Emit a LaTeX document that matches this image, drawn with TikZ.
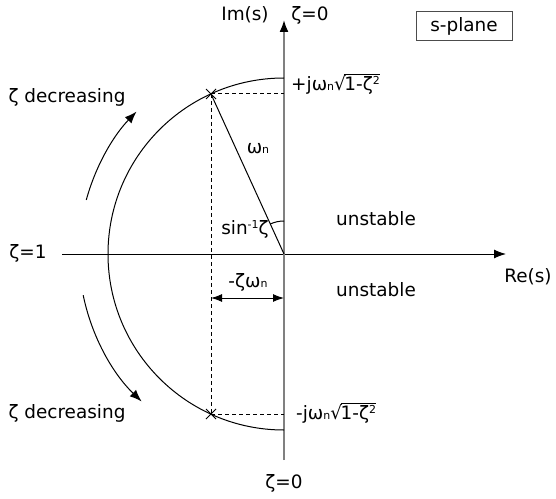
\documentclass[tikz,border=0pt]{standalone}
\usepackage{fontspec}
\setmainfont{DejaVu Sans}
\usetikzlibrary{arrows.meta,shapes.misc}
\newcommand\sbn{{\fontsize{11}{11}\selectfont n}}
\newcommand\myroot[1]{√\kern-1.4pt\vbox{\hrule height 0.9pt\kern 1.0pt\hbox{#1}}}
\begin{document}
\begin{tikzpicture}[x=1bp,y=-1bp,font=\fontsize{18.5}{22}\selectfont,
  lbl/.style={inner sep=0pt},
  thinline/.style={line width=1bp,draw=black},
  axisv/.style={line width=1.8bp,draw=gray},
  dashline/.style={line width=1bp,dash pattern=on 4bp off 3bp},
  tipend/.style={-{Latex[length=12bp,width=9bp,black]}},
  tipboth/.style={{Latex[length=11bp,width=8bp]}-{Latex[length=11bp,width=8bp]}},
  pole/.style={draw,cross out,minimum size=9bp,inner sep=0pt,line width=1bp}]
\useasboundingbox (0,0) rectangle (556,499);
% coordinates
\coordinate (O) at (284,254);
\coordinate (imtop) at (284,20);
\coordinate (imbot) at (284,460);
\coordinate (releft) at (62,254);
\coordinate (reright) at (506,254);
\coordinate (ctop) at (284,78);
\coordinate (p1h) at (284,94);
\coordinate (p2h) at (284,414);
\coordinate (wl) at (211,298);
\coordinate (wr) at (284,298);
\coordinate (a1) at (86.3,199.9);
\coordinate (a2) at (83.2,295.2);
\coordinate (ang) at (284,221);
% axes
\draw[thinline,tipend] (releft) -- (reright);
\draw[axisv,tipend] (imbot) -- (imtop);
% circle
\draw[thinline] (ctop) arc[start angle=-90,end angle=-270,radius=176];
% poles
\node[pole] (p1) at (211,94) {};
\node[pole] (p2) at (211,414) {};
\draw[dashline] (p1.center) -- (p1h);
\draw[dashline] (p2.center) -- (p2h);
\draw[dashline] (p1.center) -- (p2.center);
\draw[thinline] (p1.center) -- (O);
% angle arc
\draw[thinline] (ang) arc[start angle=-90,end angle=-114.5,radius=33];
% -zeta omega arrow
\draw[thinline,tipboth] (wl) -- (wr);
% curved arrows
\draw[thinline,tipend] (a1) arc[start angle=-164.7,end angle=-136,radius=205];
\draw[thinline,tipend] (a2) arc[start angle=-191.6,end angle=-226,radius=205];
% labels
\node[lbl] (im) at (245,15) {Im(s)};
\node[lbl] (z0t) at (310,15) {ζ=0};
\node[lbl] (z0b) at (284,483) {ζ=0};
\node[lbl,anchor=west] (pj) at (291,84) {+jω\sbn\myroot{1-ζ\raisebox{6bp}{\fontsize{11}{11}\selectfont 2}}};
\node[lbl,anchor=west] (mj) at (296,413) {-jω\sbn\myroot{1-ζ\raisebox{6bp}{\fontsize{11}{11}\selectfont 2}}};
\node[lbl] (wn) at (258,149) {ω\sbn};
\node[lbl] (sin) at (245,229) {sin\raisebox{6bp}{\fontsize{11}{11}\selectfont -1}ζ};
\node[lbl] (zw) at (248,282) {-ζω\sbn};
\node[lbl] (us1) at (376,219) {unstable};
\node[lbl] (us2) at (376,290) {unstable};
\node[lbl] (re) at (528,277) {Re(s)};
\node[lbl] (z1) at (28,253) {ζ=1};
\node[lbl] (zd1) at (67,97) {ζ decreasing};
\node[lbl] (zd2) at (67,413) {ζ decreasing};
\node[draw=black!70,line width=1bp,minimum width=96bp,minimum height=29bp,inner sep=0pt] (sp) at (464,26.5) {s-plane};
\end{tikzpicture}
\end{document}
